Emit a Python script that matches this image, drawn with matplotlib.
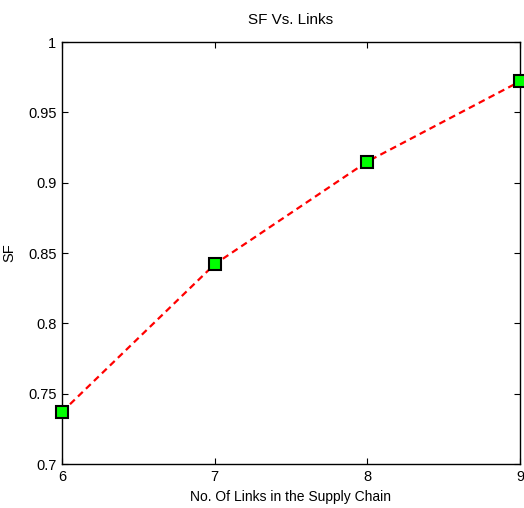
import matplotlib
matplotlib.use('Agg')
import matplotlib.pyplot as plt

links = [6, 7, 8, 9]
sf = [0.737, 0.842, 0.915, 0.972]
x_ticks = [6, 7, 8, 9]
y_ticks = [0.7, 0.75, 0.8, 0.85, 0.9, 0.95, 1]
y_labels = ['0.7', '0.75', '0.8', '0.85', '0.9', '0.95', '1']

plt.rcParams['font.family'] = ['Liberation Sans', 'DejaVu Sans']
plt.rcParams['font.size'] = 10

fig = plt.figure(figsize=(5.24, 5.08), dpi=100)
ax = fig.add_axes([62 / 524, 44 / 508, 458 / 524, 422 / 508])

ax.plot(links, sf, color='red', linestyle='--', linewidth=1.6, dashes=(3, 2),
        marker='s', markersize=8, markerfacecolor='#00ff00',
        markeredgecolor='black', markeredgewidth=1.5, clip_on=False, zorder=3)

ax.set_xlim(6, 9)
ax.set_ylim(0.7, 1)
ax.set_xticks(x_ticks)
ax.set_yticks(y_ticks)
ax.set_yticklabels(y_labels)
ax.tick_params(direction='in', top=True, right=True, length=4, width=0.8,
               labelsize=10.5, pad=4)
for s in ax.spines.values():
    s.set_linewidth(1.0)

ax.set_title('SF Vs. Links', fontsize=11, pad=13)
ax.set_xlabel('No. Of Links in the Supply Chain', fontsize=10, labelpad=5)
ax.set_ylabel('SF', fontsize=10.5, labelpad=8)

fig.savefig('out.png', dpi=100)
